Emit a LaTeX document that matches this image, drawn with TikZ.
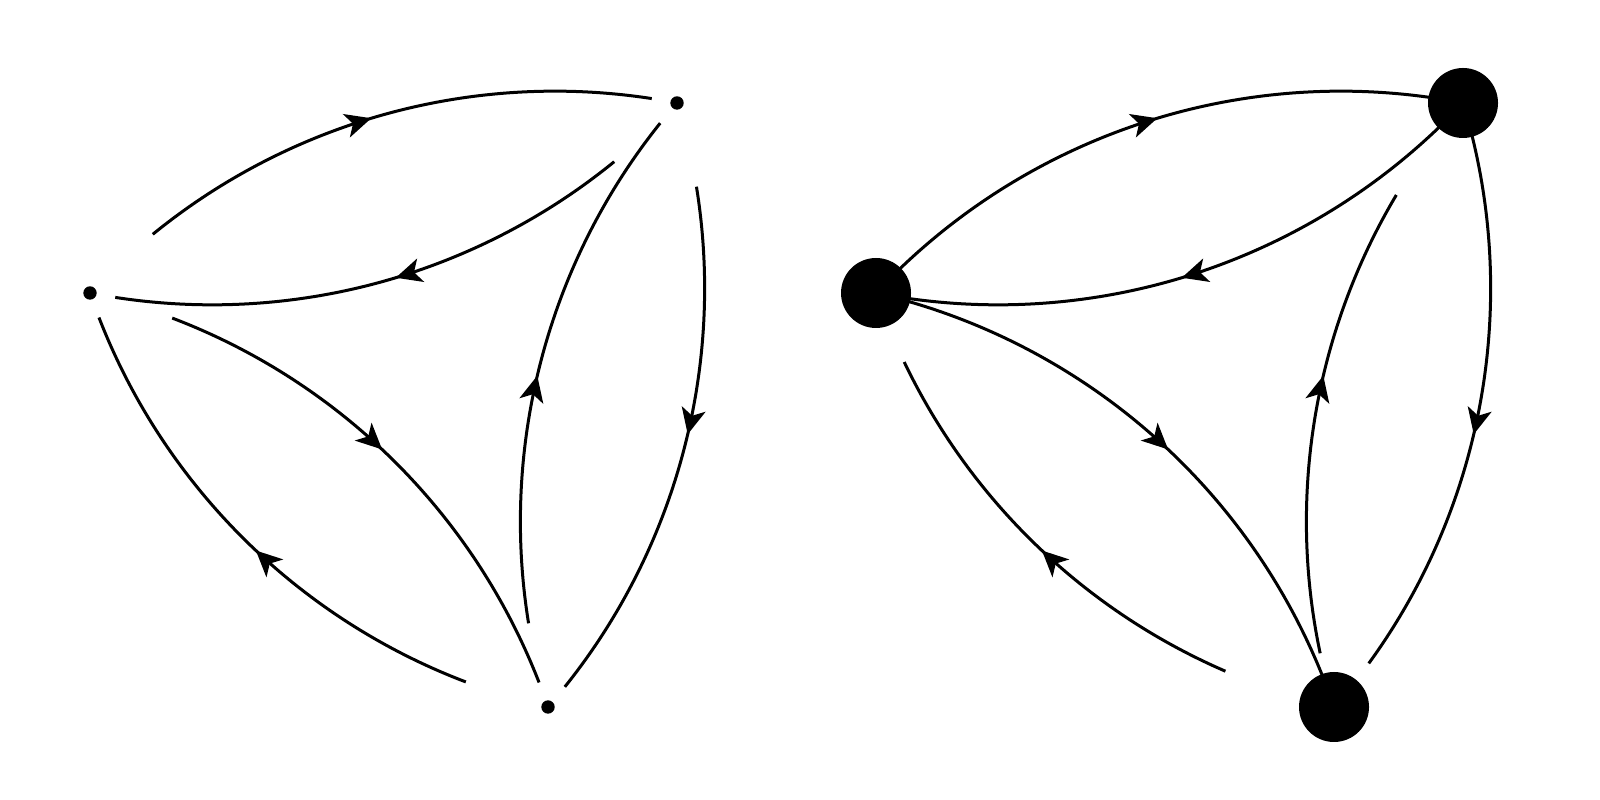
\documentclass[tikz,border=0pt]{standalone}
\usetikzlibrary{arrows.meta,decorations.markings}
\begin{document}
\begin{tikzpicture}[
  edge/.style={line width=0.03cm, bend left=29, looseness=0.91},
  midarrow/.style={bend left=29, looseness=0.91, postaction={decorate},
    decoration={markings, mark=at position 0.52 with {\arrow{Stealth[length=0.26cm,width=0.245cm,inset=0.07cm]}}}},
  smalldot/.style={circle, fill=black, inner sep=0pt, minimum size=0.134cm},
  bigdot/.style={circle, fill=black, inner sep=0pt, minimum size=0.70cm}
]
\useasboundingbox (0,0) rectangle (16,8);
% left graph
\node[smalldot] (L) at (0.90,5.07) {};
\node[smalldot] (T) at (6.77,6.97) {};
\node[smalldot] (B) at (5.48,0.93) {};
\foreach \a/\b in {L/T, T/L, L/B, B/L, B/T, T/B}{
  \draw[edge, dash pattern=on 0pt off 0.86cm on 5.325cm off 8cm] (\a.center) to (\b.center);
  \path[midarrow] (\a.center) to (\b.center);
}
% right graph
\coordinate (L2c) at (8.76,5.07);
\coordinate (T2c) at (14.63,6.97);
\coordinate (B2c) at (13.34,0.93);
\draw[edge] (L2c) to (T2c);
\draw[edge] (T2c) to (L2c);
\draw[edge] (L2c) to (B2c);
\draw[edge, dash pattern=on 0pt off 1.145cm on 4.555cm off 8cm] (B2c) to (L2c);
\draw[edge, dash pattern=on 0pt off 0.555cm on 4.755cm off 8cm] (B2c) to (T2c);
\draw[edge, dash pattern=on 5.89cm off 8cm] (T2c) to (B2c);
\foreach \a/\b in {L2c/T2c, T2c/L2c, L2c/B2c, B2c/L2c, B2c/T2c, T2c/B2c}{
  \path[midarrow] (\a) to (\b);
}
\node[bigdot] (L2) at (L2c) {};
\node[bigdot] (T2) at (T2c) {};
\node[bigdot] (B2) at (B2c) {};
\end{tikzpicture}
\end{document}
